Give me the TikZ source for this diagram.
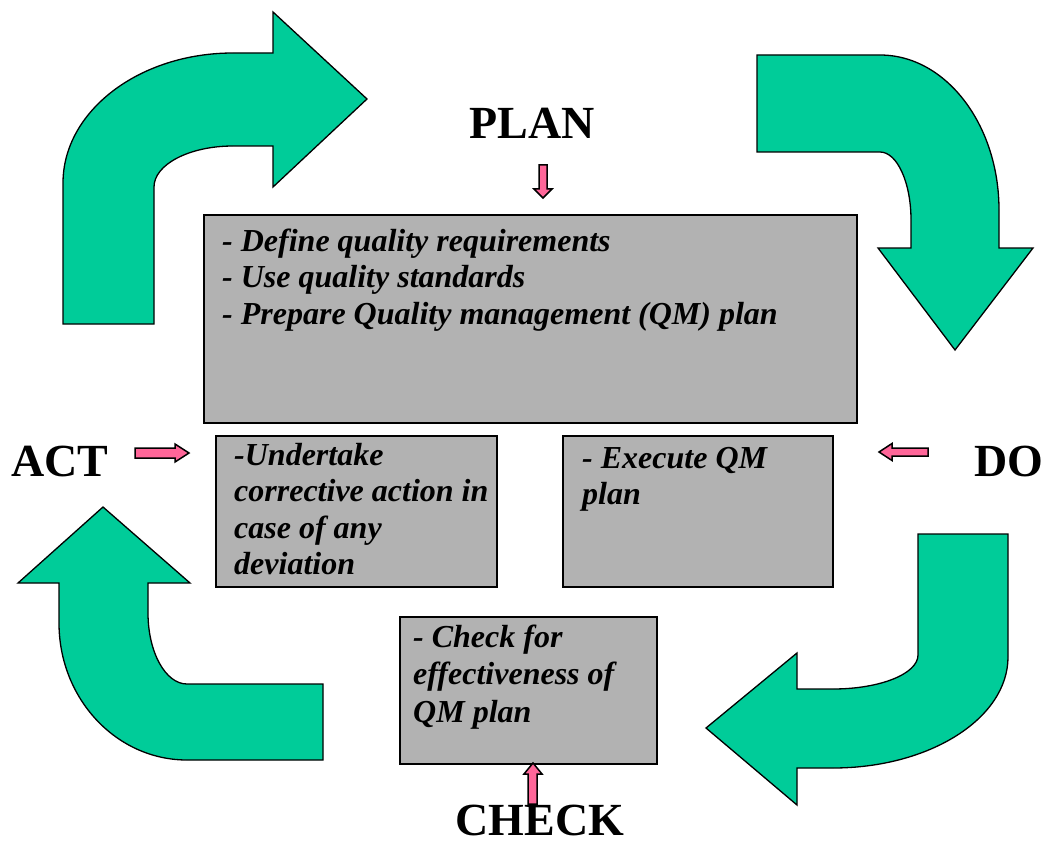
\documentclass[tikz,border=0pt]{standalone}
\usepackage{fontspec}
\setmainfont{Liberation Serif}
\usetikzlibrary{calc}
\definecolor{loopgreen}{RGB}{0,204,153}
\definecolor{boxgray}{RGB}{178,178,178}
\definecolor{cuepink}{RGB}{255,102,153}
\newcommand{\capstrut}{\rule{0pt}{24pt}}

\begin{document}
\begin{tikzpicture}[x=1pt,y=-1pt,
  bigarrow/.style={fill=loopgreen,draw=black,line width=1.3pt,line join=miter},
  graybox/.style={draw=black,line width=1.8pt,fill=boxgray,inner sep=0pt,anchor=north west},
  boxtext/.style={inner sep=0pt,anchor=north west,align=left,font=\fontsize{32}{36.5}\selectfont\bfseries\itshape},
  phase/.style={inner sep=0pt,anchor=base,font=\fontsize{46}{50}\selectfont\bfseries},
  cue/.style={fill=cuepink,draw=black,line width=1.5pt,line join=miter}]

\fill[white] (0,0) rectangle (1049,845);
\useasboundingbox (0,0) rectangle (1049,845);

% four curved arrows of the cycle
\draw[bigarrow] (63,324) -- (63,183) .. controls (63,111.2) and (139.1,53) .. (233,53)
  -- (273,53) -- (273,12) -- (367,99) -- (273,187) -- (273,146) -- (233,146)
  .. controls (189.4,146) and (154,164.4) .. (154,187) -- (154,324) -- cycle;
\draw[bigarrow] (757,55) -- (880,55) .. controls (945.7,55) and (999,124.4) .. (999,210)
  -- (999,248) -- (1033,248) -- (955,350) -- (878,248) -- (911,248) -- (911,220)
  .. controls (911,182.4) and (897.1,152) .. (880,152) -- (757,152) -- cycle;
\draw[bigarrow] (918,534) -- (1008,534) -- (1008,657) .. controls (1008,718.3) and (929.7,768) .. (833,768)
  -- (797,768) -- (797,805) -- (706,728) -- (797,653) -- (797,689) -- (833,689)
  .. controls (880,689) and (918,673.8) .. (918,655) -- cycle;
\draw[bigarrow] (103,507) -- (190,583) -- (148,583) -- (148,613)
  .. controls (148,652.2) and (165.5,684) .. (187,684) -- (323,684) -- (323,760) -- (187,760)
  .. controls (116.3,760) and (59,698.7) .. (59,623) -- (59,583) -- (18,583) -- cycle;

% grey boxes
\node[graybox,minimum width=653pt,minimum height=208pt] (planbox) at (203,214) {};
\node[graybox,minimum width=281pt,minimum height=151pt] (actbox) at (215,435) {};
\node[graybox,minimum width=270pt,minimum height=151pt] (dobox) at (562,435) {};
\node[graybox,minimum width=257pt,minimum height=147pt] (checkbox) at (399,616) {};

% box contents
\node[boxtext] (plantext) at (222,227) {\capstrut- Define quality requirements\\- Use quality standards\\- Prepare Quality management (QM) plan};
\node[boxtext] (acttext) at (234,441) {\capstrut-Undertake\\corrective action in\\case of any\\deviation};
\node[boxtext] (dotext) at (582,444) {\capstrut- Execute QM\\plan};
\node[boxtext,font=\fontsize{32}{37.5}\selectfont\bfseries\itshape] (checktext) at (413,623) {\capstrut- Check for\\effectiveness of\\QM plan};

% phase labels
\node[phase] (plan) at (532,139) {PLAN};
\node[phase] (act) at (60,476) {ACT};
\node[phase] (do) at (1009,476) {DO};
\node[phase] (check) at (540,835) {CHECK};

% small pink pointers
\draw[cue] (539,165) -- (547,165) -- (547,189) -- (552,189) -- (543,198) -- (534,189) -- (539,189) -- cycle;
\draw[cue] (135,448) -- (175,448) -- (175,444) -- (189,453) -- (175,462) -- (175,458) -- (135,458) -- cycle;
\draw[cue] (928,448) -- (892,448) -- (892,443.5) -- (879,452) -- (892,460.5) -- (892,456) -- (928,456) -- cycle;
\draw[cue] (528,804) -- (528,774) -- (524,774) -- (533,763) -- (542,774) -- (537,774) -- (537,804) -- cycle;
\end{tikzpicture}
\end{document}
